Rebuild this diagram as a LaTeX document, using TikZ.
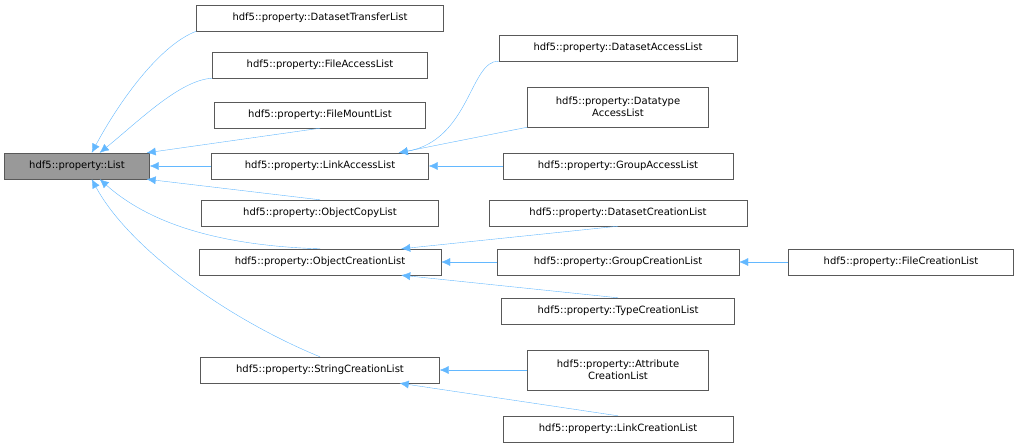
\documentclass[tikz,border=0pt]{standalone}
\usepackage{fontspec}
\setmainfont{DejaVu Sans}
\usetikzlibrary{arrows.meta}
\definecolor{edgeblue}{HTML}{63B8FF}
\tikzset{
  cls/.style={draw=black!65, fill=white, font=\fontsize{10}{12}\selectfont, inner sep=0pt, minimum height=26pt, align=center},
  base/.style={cls, fill=black!40},
  inh/.style={draw=edgeblue, thin, {Latex[open, fill=edgeblue, length=9pt, width=8pt]}-}
}
\begin{document}
\begin{tikzpicture}[x=1pt,y=-1pt]
\useasboundingbox (0,0) rectangle (1019,447);
% base class
\node[base, minimum width=145] (List) at (77,166) {hdf5::property::List};
% first level
\node[cls, minimum width=247] (DTL) at (320,18) {hdf5::property::DatasetTransferList};
\node[cls, minimum width=215] (FAL) at (320,65) {hdf5::property::FileAccessList};
\node[cls, minimum width=211] (FML) at (320,115) {hdf5::property::FileMountList};
\node[cls, minimum width=217] (LAL) at (320,166) {hdf5::property::LinkAccessList};
\node[cls, minimum width=237] (OCL) at (320,213) {hdf5::property::ObjectCopyList};
\node[cls, minimum width=242] (OCrL) at (320,262) {hdf5::property::ObjectCreationList};
\node[cls, minimum width=239] (SCL) at (320,370) {hdf5::property::StringCreationList};
% second level
\node[cls, minimum width=238] (DAL) at (618,48) {hdf5::property::DatasetAccessList};
\node[cls, minimum width=181, minimum height=40] (TAL) at (618,107) {hdf5::property::Datatype\\AccessList};
\node[cls, minimum width=230] (GAL) at (618,166) {hdf5::property::GroupAccessList};
\node[cls, minimum width=258] (DCL) at (618,213) {hdf5::property::DatasetCreationList};
\node[cls, minimum width=242] (GCL) at (618,262) {hdf5::property::GroupCreationList};
\node[cls, minimum width=233] (TCL) at (618,311) {hdf5::property::TypeCreationList};
\node[cls, minimum width=181, minimum height=40] (ACL) at (618,370) {hdf5::property::Attribute\\CreationList};
\node[cls, minimum width=230] (LCL) at (618,429) {hdf5::property::LinkCreationList};
% third level
\node[cls, minimum width=225] (FCL) at (901,262) {hdf5::property::FileCreationList};
% inheritance
\draw[inh] (List.north east)+(-58,0) .. controls (120,100) and (160,45) .. (DTL.south west);
\draw[inh] (List.north east)+(-50,0) .. controls (140,120) and (180,80) .. (FAL.south west);
\draw[inh] (List.north east)+(-3,0) -- (FML.south);
\draw[inh] (List.east) -- (LAL.west);
\draw[inh] (List.south east)+(-3,0) -- (OCL.north);
\draw[inh] (List.south east)+(-50,0) .. controls (140,215) and (200,245) .. (OCrL.north);
\draw[inh] (List.south east)+(-58,0) .. controls (130,250) and (230,320) .. (SCL.north);
\draw[inh] (LAL.north east)+(-30,0) .. controls (470,140) and (470,60) .. (DAL.south west);
\draw[inh] (LAL.north east)+(-30,0) -- (TAL.south west);
\draw[inh] (LAL.east) -- (GAL.west);
\draw[inh] (OCrL.north east)+(-40,0) -- (DCL.south);
\draw[inh] (OCrL.east) -- (GCL.west);
\draw[inh] (OCrL.south east)+(-40,0) -- (TCL.north);
\draw[inh] (GCL.east) -- (FCL.west);
\draw[inh] (SCL.east) -- (ACL.west);
\draw[inh] (SCL.south east)+(-40,0) -- (LCL.north);
\end{tikzpicture}
\end{document}
